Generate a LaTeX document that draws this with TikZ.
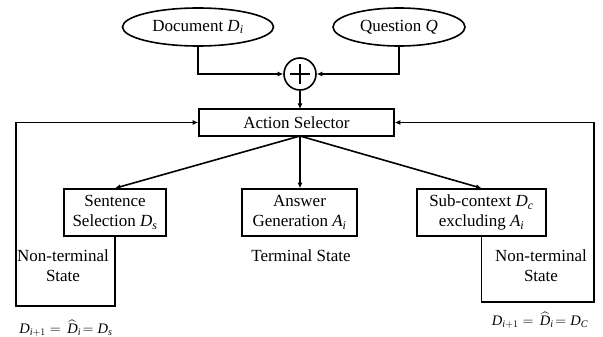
\documentclass[tikz,border=0pt]{standalone}
\usepackage{amsmath}
\usepackage{fontspec}
\setmainfont{Liberation Serif}
\usetikzlibrary{shapes.geometric,arrows.meta,calc}
\newcommand\mi[1]{\textit{#1}}
\begin{document}
\begin{tikzpicture}[x=1pt,y=1pt,
  every node/.style={font=\fontsize{17}{20}\selectfont},
  conn/.style={line width=1.6pt,-{Latex[length=5.5pt,width=5pt]}},
  ell/.style={draw,line width=1.6pt,ellipse,inner sep=0pt},
  boxn/.style={draw,line width=1.6pt,rectangle,inner sep=0pt,align=center},
  lbl/.style={align=center,inner sep=0pt},
  frm/.style={inner sep=0pt,font=\fontsize{14.5}{18}\selectfont}]
\useasboundingbox (0,0) rectangle (603,-337);
\node[ell,minimum width=151,minimum height=38] (doc) at (198,-27) {Document $\mi{D}_{\mi{i}}$};
\node[ell,minimum width=132,minimum height=38] (ques) at (399,-27) {Question \mi{Q}};
\node[draw,circle,line width=1.6pt,minimum size=32,inner sep=0pt] (plus) at (300,-74) {};
\draw[line width=2pt] ([xshift=-10pt]plus.center) -- ([xshift=10pt]plus.center);
\draw[line width=2pt] ([yshift=-10pt]plus.center) -- ([yshift=10pt]plus.center);
\node[boxn,minimum width=195,minimum height=27] (sel) at (296.5,-122.5) {Action Selector};
\node[boxn,minimum width=102,minimum height=47] (sent) at (115,-212.5) {Sentence\\Selection $\mi{D}_{\mi{s}}$};
\node[boxn,minimum width=115,minimum height=47] (ans) at (299.5,-212.5) {Answer\\Generation $\mi{A}_{\mi{i}}$};
\node[boxn,minimum width=129,minimum height=47] (sub) at (481.5,-212.5) {Sub-context $\mi{D}_{\mi{c}}$\\excluding $\mi{A}_{\mi{i}}$};
\coordinate (selt) at (300,-109);
\coordinate (selb) at (300,-136);
\coordinate (lc) at (16,-306);
\coordinate (rc) at (594,-302);
% inputs
\draw[conn] (doc.south) |- (plus.west);
\draw[conn] (ques.south) |- (plus.east);
\draw[conn] (plus.south) -- (selt);
% actions
\draw[conn] (selb) -- (sent.north);
\draw[conn] (selb) -- (selb |- ans.north);
\draw[conn] (selb) -- (sub.north);
% loops
\draw[conn] (sent.south) -- (sent.south |- lc) -- (lc) |- (sel.west);
\draw[conn] (sub.south) -- (sub.south |- rc) -- (rc) |- (sel.east);
% labels
\node[lbl] (nt1) at (63,-266) {Non-terminal\\State};
\node[lbl] (ts) at (301,-256) {Terminal State};
\node[lbl] (nt2) at (541,-266) {Non-terminal\\State};
\node[frm] (f1) at (66,-328) {$\mi{D}_{\mi{i}+1} =\,\widehat{\mi{D}}_{\mi{i}}\!= \mi{D}_{\mi{s}}$};
\node[frm] (f2) at (540,-320) {$\mi{D}_{\mi{i}+1} =\,\widehat{\mi{D}}_{\mi{i}}\!= \mi{D}_{\mi{C}}$};
\end{tikzpicture}
\end{document}
